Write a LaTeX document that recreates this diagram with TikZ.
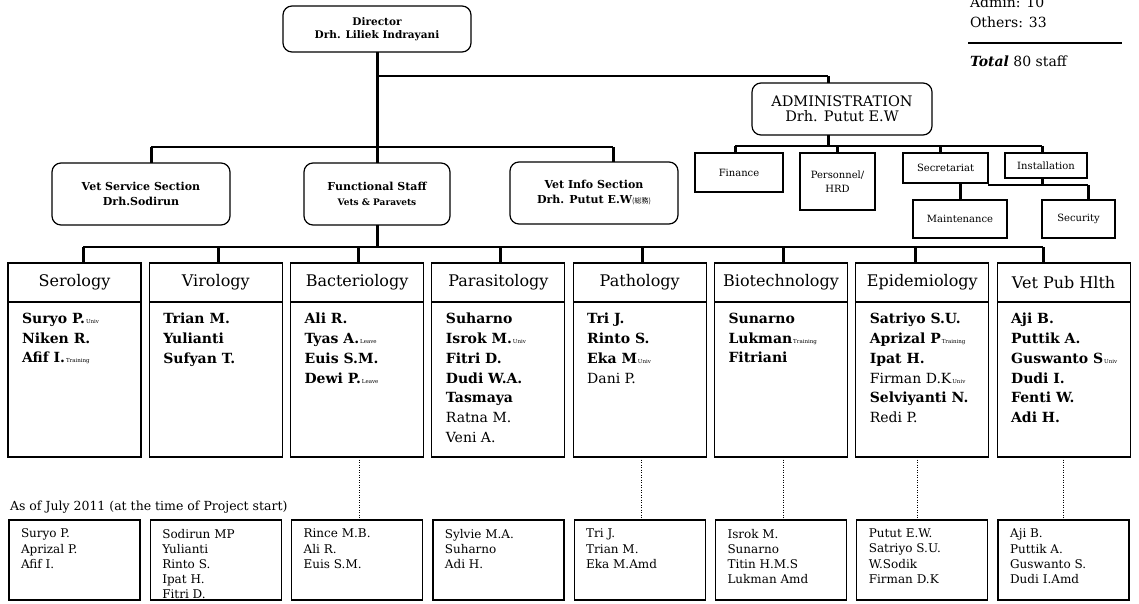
\documentclass[tikz,border=0pt]{standalone}
\usepackage{fontspec}
\setmainfont{DejaVu Serif}
\newfontfamily\cjkfont{Noto Sans CJK JP}
\newcommand\fsz[2]{\fontsize{#1}{#2}\selectfont}
\newcommand\labnote[1]{{\mdseries\fsz{5.5}{6}\,#1}}

\tikzset{
  every node/.style={inner sep=0pt, outer sep=0pt},
  rbox/.style={draw, line width=1.2pt, rounded corners=9pt, align=center},
  sbox/.style={draw, line width=1.1pt, align=center, font=\fsz{10}{14}},
  bus/.style={line width=1.6pt},
  drop/.style={line width=3pt},
  tie/.style={line width=0.7pt, dash pattern=on 1.3pt off 1.2pt},
  labhead/.style={draw, line width=1.1pt, minimum width=133pt, minimum height=39pt, font=\fsz{16}{18}},
  labbody/.style={draw, line width=1.1pt, minimum width=133pt, minimum height=155pt},
  labnames/.style={align=left, font=\bfseries\fsz{14}{19.8}},
  pastbox/.style={draw, line width=1.3pt, minimum width=131pt, minimum height=80pt},
  pastnames/.style={align=left, font=\fsz{12}{15.2}},
  tally/.style={anchor=base west, font=\fsz{14}{16}}
}

% one laboratory: header, body, staff list and the tap from the lab bus
\newcommand\labbox[5]{%
  \node[labhead, anchor=north west] (#1h) at (#2,263) {#3};
  \node[labbody, anchor=north west] (#1) at (#2,302) {};
  \node[labnames, anchor=north west] (#1n) at ([xshift=14pt,yshift=-11pt]#1.north west) {#4};
  \draw[drop] ([xshift=#5pt]#1h.north |- labbus) -- ([xshift=#5pt]#1h.north);
}
% staff of a laboratory at project start
\newcommand\pastbox[3]{%
  \node[pastbox, anchor=north west] (#1) at (#2,520) {};
  \node[pastnames, anchor=north west] (#1n) at ([xshift=12pt,yshift=-9pt]#1.north west) {#3};
}

\begin{document}
\begin{tikzpicture}[x=1pt,y=-1pt]
\useasboundingbox (0,0) rectangle (1139,604);
\fill[white] (0,0) rectangle (1139,604);

\coordinate (admrow) at (0,76);
\coordinate (secbus) at (0,147);
\coordinate (admbus) at (0,146);
\coordinate (secrow) at (0,185);
\coordinate (labbus) at (0,247);

% staff totals
\node[tally] (nadm) at (970,8) {Admin: 10};
\node[tally] (noth) at (970,28) {Others: 33};
\coordinate (rulel) at (968,43);
\coordinate (ruler) at (1122,43);
\draw[line width=1.3pt] (rulel) -- (ruler);
\node[tally] (ntot) at (970,67) {\textbf{\textit{Total}} 80 staff};

% head of the institute
\node[rbox, minimum width=188pt, minimum height=46pt, font=\bfseries\fsz{10.5}{13}] (dir) at (377,29)
  {Director\\Drh. Liliek Indrayani};

% administration
\node[rbox, minimum width=180pt, minimum height=52pt, font=\fsz{14.5}{15}] (adm) at (842,109)
  {ADMINISTRATION\\Drh. Putut E.W};

% sections
\node[rbox, minimum width=178pt, minimum height=62pt, font=\bfseries\fsz{11}{15}] (vss) at (141,194)
  {Vet Service Section\\Drh.Sodirun};
\node[rbox, minimum width=146pt, minimum height=62pt, font=\bfseries\fsz{11}{15}] (fs) at (377,194)
  {Functional Staff\\{\fsz{9}{11}Vets \& Paravets}};
\node[rbox, minimum width=168pt, minimum height=62pt, font=\bfseries\fsz{11}{15}] (vis) at (594,193)
  {Vet Info Section\\Drh. Putut E.W{\mdseries\cjkfont\fsz{7}{8}(総務)}};

% administration units
\node[sbox, minimum width=88pt, minimum height=39pt] (fin) at (739,172.5) {Finance};
\node[sbox, minimum width=75pt, minimum height=57pt] (per) at (837.5,181.5) {Personnel/\\HRD};
\node[sbox, minimum width=85pt, minimum height=30pt] (sec) at (945.5,168) {Secretariat};
\node[sbox, minimum width=82pt, minimum height=25pt] (ins) at (1046,165.5) {Installation};
\node[sbox, minimum width=94pt, minimum height=38pt] (mai) at (960,219) {Maintenance};
\node[sbox, minimum width=73pt, minimum height=38pt] (scy) at (1078.5,219) {Security};

% trunk from the director
\draw[drop] (dir.south) -- (dir.south |- secbus);
\draw[bus] (dir.south |- admrow) -- ([xshift=-14pt]adm.north |- admrow);
\draw[drop] ([xshift=-14pt]adm.north |- admrow) -- ([xshift=-14pt]adm.north);

% section bus
\draw[bus] ([xshift=10pt]vss.north |- secbus) -- ([xshift=19pt]vis.north |- secbus);
\draw[drop] ([xshift=10pt]vss.north |- secbus) -- ([xshift=10pt]vss.north);
\draw[drop] (fs.north |- secbus) -- (fs.north);
\draw[drop] ([xshift=19pt]vis.north |- secbus) -- ([xshift=19pt]vis.north);

% administration bus
\draw[drop] ([xshift=-14pt]adm.south) -- ([xshift=-14pt]adm.south |- admbus);
\draw[bus] ([xshift=-4pt]fin.north |- admbus) -- ([xshift=-4pt]ins.north |- admbus);
\draw[drop] ([xshift=-4pt]fin.north |- admbus) -- ([xshift=-4pt]fin.north);
\draw[drop] (per.north |- admbus) -- (per.north);
\draw[drop] ([xshift=-5.5pt]sec.north |- admbus) -- ([xshift=-5.5pt]sec.north);
\draw[drop] ([xshift=-4pt]ins.north |- admbus) -- ([xshift=-4pt]ins.north);
\draw[drop] (sec.south -| mai.north) -- (mai.north);
\draw[bus] (sec.south east |- secrow) -- ([xshift=9.5pt]scy.north |- secrow);
\draw[drop] ([xshift=-4pt]ins.south) -- ([xshift=-4pt]ins.south |- secrow);
\draw[drop] ([xshift=9.5pt]scy.north |- secrow) -- ([xshift=9.5pt]scy.north);

% laboratories
\draw[drop] (fs.south) -- (fs.south |- labbus);
\labbox{ser}{8}{Serology}{Suryo P.\labnote{Univ}\\Niken R.\\Afif I.\labnote{Training}}{8.5}
\labbox{vir}{149.3}{Virology}{Trian M.\\Yulianti\\Sufyan T.}{2.2}
\labbox{bac}{290.6}{Bacteriology}{Ali R.\\Tyas A.\labnote{Leave}\\Euis S.M.\\Dewi P.\labnote{Leave}}{0.9}
\labbox{par}{431.9}{Parasitology}{Suharno\\Isrok M.\labnote{Univ}\\Fitri D.\\Dudi W.A.\\Tasmaya\\{\mdseries Ratna M.}\\{\mdseries Veni A.}}{1.6}
\labbox{pat}{573.2}{Pathology}{Tri J.\\Rinto S.\\Eka M\labnote{Univ}\\{\mdseries Dani P.}}{2.3}
\labbox{bio}{714.5}{Biotechnology}{Sunarno\\Lukman\labnote{Training}\\Fitriani}{2}
\labbox{epi}{855.8}{Epidemiology}{Satriyo S.U.\\Aprizal P\labnote{Training}\\Ipat H.\\{\mdseries Firman D.K}\labnote{Univ}\\Selviyanti N.\\{\mdseries Redi P.}}{-7.3}
\labbox{vph}{997.1}{Vet Pub Hlth}{Aji B.\\Puttik A.\\Guswanto S\labnote{Univ}\\Dudi I.\\Fenti W.\\Adi H.}{-20.6}
\draw[bus] ([xshift=8.5pt]serh.north |- labbus) -- ([xshift=-20.6pt]vphh.north |- labbus);

% staff at project start
\node[anchor=west, font=\fsz{12.5}{14}] (asof) at (10,507) {As of July 2011 (at the time of Project start)};
\pastbox{serb}{9}{Suryo P.\\Aprizal P.\\Afif I.}
\pastbox{virb}{150.3}{Sodirun MP\\Yulianti\\Rinto S.\\Ipat H.\\Fitri D.}
\pastbox{bacb}{291.6}{Rince M.B.\\Ali R.\\Euis S.M.}
\pastbox{parb}{432.9}{Sylvie M.A.\\Suharno\\Adi H.}
\pastbox{patb}{574.2}{Tri J.\\Trian M.\\Eka M.Amd}
\pastbox{biob}{715.5}{Isrok M.\\Sunarno\\Titin H.M.S\\Lukman Amd}
\pastbox{epib}{856.8}{Putut E.W.\\Satriyo S.U.\\W.Sodik\\Firman D.K}
\pastbox{vphb}{998.1}{Aji B.\\Puttik A.\\Guswanto S.\\Dudi I.Amd}

% links between current and former lab staff
\draw[tie] ([xshift=2pt]bac.south) -- ([xshift=2pt]bacb.north);
\draw[tie] ([xshift=2pt]pat.south) -- ([xshift=2pt]patb.north);
\draw[tie] ([xshift=2pt]bio.south) -- ([xshift=2pt]biob.north);
\draw[tie] ([xshift=-5pt]epi.south) -- ([xshift=-5pt]epib.north);
\draw[tie] (vph.south) -- (vphb.north);
\end{tikzpicture}
\end{document}
